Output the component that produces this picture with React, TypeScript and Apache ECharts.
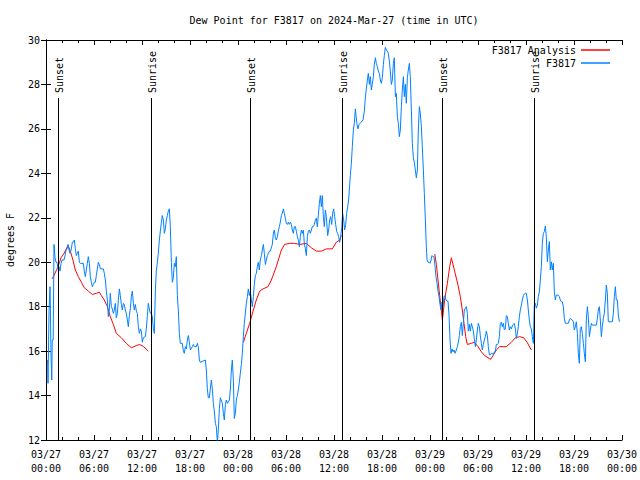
import React, { useEffect, useRef } from "react";
import * as echarts from "echarts";

// Time is in hours since 2024-03-27 00:00 UTC
const titleText = "Dew Point for F3817 on 2024-Mar-27 (time in UTC)";
const yAxisName = "degrees F";
const xTickDates = ["03/27", "03/28", "03/29", "03/30"];

const sunEventHours = [1.5, 13.1, 25.5, 37.0, 49.5, 61.0];
const sunEventLabels = ["Sunset", "Sunrise", "Sunset", "Sunrise", "Sunset", "Sunrise"];

const analysisNight1: [number, number][] = [
  [0.75,19.25],[1.0,19.4],[1.5,19.8],[1.88,20.2],[2.25,20.4],[2.75,20.75],[3.0,20.55],[3.29,20.2],
  [3.67,19.65],[4.04,19.35],[4.42,19.1],[4.79,18.85],[5.29,18.7],[5.79,18.55],[6.29,18.6],[6.67,18.65],
  [6.92,18.5],[7.29,18.3],[7.67,18.0],[8.04,17.55],[8.42,17.2],[8.79,16.8],[9.42,16.6],[10.04,16.35],
  [10.67,16.15],[11.29,16.25],[11.71,16.3],[12.21,16.2],[12.79,16.0]
];
const analysisNight2: [number, number][] = [
  [24.67,16.4],[25.04,16.8],[25.46,17.25],[25.88,17.8],[26.29,18.3],[26.71,18.7],[27.13,18.8],[27.75,18.9],
  [28.17,19.2],[28.79,19.8],[29.42,20.55],[29.83,20.8],[30.46,20.85],[31.08,20.85],[31.71,20.8],[32.54,20.85],
  [33.17,20.65],[33.79,20.5],[34.42,20.5],[35.04,20.6],[35.79,20.6],[36.29,20.9],[36.71,21.0],[36.92,21.2]
];
const analysisNight3: [number, number][] = [
  [48.59,20.37],[48.8,19.9],[49.0,19.2],[49.21,18.5],[49.55,17.4],[49.83,18.3],[50.17,19.05],[50.46,19.8],
  [50.67,20.2],[51.08,19.6],[51.5,18.97],[51.79,18.45],[52.04,17.85],[52.25,17.25],[52.46,16.65],[52.67,16.3],
  [53.17,16.35],[53.58,16.4],[54.0,16.2],[54.42,15.97],[54.83,15.8],[55.25,15.7],[55.58,15.63],[55.88,15.8],
  [56.29,16.05],[56.71,16.2],[57.54,16.2],[58.17,16.4],[58.67,16.6],[59.21,16.65],[59.71,16.6],[60.13,16.4],
  [60.67,16.05]
];

const stationObs: [number, number][] = [
  [0.2,15.6],[0.25,14.55],[0.38,17.8],[0.5,18.9],[0.55,17.85],[0.63,15.8],[0.72,14.7],[0.78,16.5],[0.9,16.5],
  [1.0,20.8],[1.13,20.2],[1.25,20.0],[1.38,20.0],[1.5,19.7],[1.63,19.8],[1.75,19.6],[1.88,19.95],[2.0,20.1],
  [2.25,20.1],[2.38,20.3],[2.5,20.55],[2.63,20.6],[2.75,20.8],[2.88,20.55],[3.0,20.4],[3.17,20.6],[3.29,20.9],
  [3.42,20.9],[3.54,21.0],[3.67,20.6],[3.79,20.3],[3.92,20.4],[4.04,20.5],[4.17,20.0],[4.29,19.95],[4.67,19.95],
  [4.79,19.6],[4.92,19.35],[5.04,19.65],[5.17,19.95],[5.29,20.25],[5.42,19.95],[5.54,19.35],[5.67,19.1],
  [5.79,18.9],[5.92,19.0],[6.04,19.1],[6.17,19.1],[6.29,19.4],[6.42,19.7],[6.54,20.0],[6.67,19.9],[6.79,19.7],
  [7.17,19.7],[7.29,19.5],[7.42,19.2],[7.54,18.7],[7.67,18.3],[7.79,17.55],[7.92,17.9],[8.04,18.6],[8.17,18.0],
  [8.29,17.9],[8.42,17.7],[8.54,17.85],[8.67,18.15],[8.79,17.5],[8.92,17.7],[9.04,18.3],[9.17,18.8],[9.29,18.5],
  [9.42,18.1],[9.54,17.85],[9.67,18.15],[9.79,18.1],[9.92,17.85],[10.04,17.7],[10.17,17.4],[10.29,17.1],
  [10.42,17.6],[10.54,17.9],[10.67,18.45],[10.79,18.7],[10.92,18.15],[11.04,17.85],[11.17,18.1],[11.29,17.8],
  [11.42,17.7],[11.54,17.1],[11.67,16.8],[11.79,17.0],[11.92,16.9],[12.04,16.4],[12.17,16.6],[12.42,16.65],
  [12.54,17.0],[12.67,17.6],[12.79,18.15],[12.92,17.9],[13.04,17.7],[13.17,17.7],[13.29,17.55],[13.42,17.0],
  [13.54,16.8],[13.67,18.75],[13.79,19.6],[13.92,20.0],[14.04,20.4],[14.17,21.0],[14.29,21.4],[14.42,21.8],
  [14.54,22.1],[14.67,21.9],[14.79,21.3],[14.92,21.5],[15.04,21.9],[15.17,22.1],[15.29,22.3],[15.42,22.4],
  [15.54,21.6],[15.67,20.0],[15.79,19.1],[15.92,19.3],[16.04,19.95],[16.17,19.8],[16.29,20.25],[16.42,18.5],
  [16.54,17.85],[16.67,16.8],[16.79,16.35],[17.04,16.35],[17.17,16.0],[17.29,15.9],[17.42,16.2],[17.54,16.1],
  [17.67,16.5],[17.79,16.7],[17.92,16.4],[18.04,16.05],[18.29,16.2],[18.42,16.3],[18.54,16.2],[18.79,16.2],
  [18.92,16.35],[19.04,16.2],[19.17,15.6],[19.29,15.5],[19.92,15.6],[20.04,15.15],[20.17,14.3],[20.29,13.9],
  [20.42,13.9],[20.54,14.3],[20.67,14.7],[20.79,14.3],[20.92,13.65],[21.04,13.3],[21.17,12.75],[21.29,12.6],
  [21.42,11.9],[21.54,12.45],[21.67,13.4],[21.79,13.9],[22.04,13.65],[22.17,13.2],[22.29,12.9],[22.42,13.6],
  [22.54,13.8],[22.67,13.65],[22.92,13.8],[23.04,14.25],[23.17,15.15],[23.29,15.6],[23.42,14.7],[23.54,12.97],
  [23.67,13.2],[23.79,13.8],[23.92,14.0],[24.04,14.25],[24.17,14.6],[24.29,15.0],[24.42,15.4],[24.54,15.9],
  [24.67,16.65],[24.79,17.25],[24.92,17.7],[25.04,18.15],[25.17,18.45],[25.29,18.8],[25.42,18.5],[25.54,18.7],
  [25.67,18.3],[25.79,18.0],[25.92,18.45],[26.04,19.0],[26.17,19.4],[26.29,19.5],[26.42,19.8],[26.54,20.0],
  [26.67,19.65],[26.79,20.1],[26.92,20.3],[27.04,20.55],[27.17,20.8],[27.29,20.4],[27.42,19.9],[27.54,20.1],
  [27.67,20.3],[27.79,20.4],[27.92,20.5],[28.04,20.5],[28.29,20.8],[28.42,21.3],[28.54,21.45],[28.67,21.1],
  [28.79,21.0],[28.92,21.15],[29.04,21.4],[29.17,21.6],[29.29,21.8],[29.42,22.1],[29.54,22.2],[29.67,22.4],
  [29.79,22.2],[29.92,21.98],[30.04,21.75],[30.17,21.7],[30.29,21.8],[30.42,21.7],[30.54,21.8],[30.67,21.7],
  [30.79,21.45],[30.92,21.3],[31.04,21.6],[31.17,21.6],[31.29,21.4],[31.42,21.15],[31.54,21.0],[31.67,20.7],
  [31.79,21.15],[31.92,21.45],[32.04,21.3],[32.17,21.45],[32.29,20.85],[32.42,20.6],[32.54,20.3],[32.67,21.15],
  [32.79,21.4],[32.92,21.45],[33.04,21.3],[33.17,21.45],[33.29,21.6],[33.42,21.6],[33.54,21.7],[33.67,21.9],
  [33.79,21.98],[33.92,21.6],[34.04,22.1],[34.17,22.65],[34.29,23.0],[34.42,22.5],[34.54,23.0],[34.67,22.05],
  [34.79,21.6],[34.92,22.35],[35.04,22.05],[35.21,21.2],[35.33,21.45],[35.46,21.9],[35.58,22.05],[35.71,21.7],
  [35.83,22.2],[35.96,22.4],[36.08,22.05],[36.21,21.7],[36.33,21.4],[36.46,21.3],[36.58,21.15],[36.71,20.9],
  [36.83,21.15],[36.96,21.5],[37.08,22.2],[37.21,21.9],[37.33,21.45],[37.46,21.7],[37.58,22.2],[37.71,22.5],
  [37.83,22.8],[38.04,23.9],[38.17,24.45],[38.29,25.2],[38.42,25.95],[38.54,26.25],[38.67,26.9],[38.75,26.6],
  [38.88,26.2],[39.0,26.0],[39.13,26.2],[39.25,26.25],[39.38,26.3],[39.63,26.4],[39.79,26.8],[39.92,27.4],
  [40.04,27.8],[40.17,28.2],[40.29,28.5],[40.42,28.0],[40.54,28.35],[40.67,27.75],[40.79,28.0],[40.92,28.35],
  [41.04,28.9],[41.17,29.2],[41.29,28.95],[41.42,28.8],[41.54,28.6],[41.67,28.5],[41.79,28.2],[41.92,28.05],
  [42.04,28.3],[42.17,28.9],[42.29,29.3],[42.42,29.67],[42.54,29.55],[42.67,29.5],[42.79,29.4],[42.92,29.05],
  [43.04,28.6],[43.17,28.0],[43.29,28.2],[43.42,28.95],[43.54,29.2],[43.67,27.45],[43.79,27.6],[43.92,26.55],
  [44.04,26.25],[44.17,25.65],[44.29,25.95],[44.42,27.0],[44.54,27.75],[44.67,28.35],[44.79,27.45],[44.92,28.0],
  [45.04,27.15],[45.17,28.3],[45.29,28.65],[45.42,28.95],[45.54,28.35],[45.67,26.85],[45.79,25.35],[45.92,24.7],
  [46.04,24.5],[46.17,24.15],[46.29,23.8],[46.42,24.15],[46.54,25.95],[46.67,27.0],[46.79,26.7],[46.92,26.1],
  [47.04,25.2],[47.17,24.15],[47.29,23.1],[47.42,21.9],[47.54,20.7],[47.63,20.1],[47.75,20.0],[47.88,20.0],
  [48.0,19.95],[48.13,20.1],[48.25,20.3],[48.38,20.25],[48.5,20.25],[48.63,19.8],[48.75,19.35],[48.88,19.05],
  [49.0,18.7],[49.13,18.45],[49.25,18.1],[49.38,17.85],[49.5,18.2],[49.63,18.0],[49.75,18.45],[49.88,18.5],
  [50.0,18.3],[50.13,18.25],[50.25,18.25],[50.38,17.6],[50.5,16.5],[50.63,15.9],[50.75,16.1],[50.88,15.97],
  [51.0,16.05],[51.13,15.9],[51.29,16.05],[51.42,16.2],[51.54,16.4],[51.67,16.7],[51.79,17.1],[51.92,17.3],
  [52.04,16.7],[52.17,17.25],[52.29,17.85],[52.42,17.93],[52.54,18.0],[52.67,17.7],[52.79,16.9],[52.92,17.2],
  [53.04,16.9],[53.17,17.25],[53.29,17.1],[53.42,16.9],[53.54,16.57],[53.67,16.2],[53.79,16.5],[53.92,16.95],
  [54.04,17.25],[54.17,17.1],[54.29,16.7],[54.42,16.35],[54.54,16.05],[54.67,16.3],[54.79,16.5],[54.92,16.65],
  [55.04,16.9],[55.17,16.7],[55.29,16.2],[55.42,15.83],[55.54,15.83],[55.67,15.9],[55.79,15.9],[55.92,15.83],
  [56.04,15.97],[56.17,15.97],[56.29,16.3],[56.42,16.3],[56.54,16.35],[56.67,16.65],[56.79,17.25],[56.92,17.3],
  [57.04,17.1],[57.17,17.25],[57.29,16.95],[57.42,17.0],[57.54,17.6],[57.67,17.55],[57.79,17.25],[57.92,16.95],
  [58.04,17.1],[58.17,17.0],[58.29,17.13],[58.42,17.2],[58.54,17.25],[58.67,17.0],[58.79,16.57],[58.92,16.8],
  [59.04,17.1],[59.17,17.55],[59.29,17.85],[59.42,18.07],[59.54,18.3],[59.67,18.5],[59.79,18.57],[59.92,18.6],
  [60.04,18.6],[60.17,18.3],[60.29,17.85],[60.42,17.4],[60.54,17.1],[60.67,17.0],[60.79,16.65],[60.92,16.35],
  [61.04,18.07],[61.17,18.15],[61.29,17.93],[61.42,18.07],[61.54,18.45],[61.67,18.67],[61.79,19.2],[61.92,19.8],
  [62.04,20.85],[62.17,21.3],[62.29,21.38],[62.42,21.63],[62.54,21.15],[62.67,20.02],[62.79,20.55],[62.92,20.93],
  [63.04,19.65],[63.17,20.02],[63.29,19.65],[63.42,19.95],[63.54,18.67],[63.67,18.3],[63.79,18.52],[63.92,18.52],
  [64.04,18.52],[64.17,18.45],[64.29,18.3],[64.42,18.22],[64.54,18.22],[64.67,18.0],[64.79,17.47],[64.92,17.25],
  [65.29,17.25],[65.42,17.4],[65.54,17.47],[65.79,17.4],[65.92,17.32],[66.04,16.95],[66.17,17.1],[66.29,17.32],
  [66.42,16.8],[66.54,15.9],[66.67,15.45],[66.79,17.02],[66.92,17.1],[67.04,16.8],[67.17,16.35],[67.29,15.9],
  [67.42,15.52],[67.54,17.4],[67.67,18.0],[67.79,17.55],[67.92,16.65],[68.04,16.95],[68.17,17.25],[68.29,17.17],
  [68.79,17.17],[68.92,17.47],[69.04,17.85],[69.17,18.0],[69.29,17.4],[69.42,16.65],[69.54,17.1],[69.67,17.47],
  [69.79,17.7],[69.92,18.3],[70.04,18.97],[70.17,18.6],[70.29,17.32],[70.79,17.32],[70.92,17.7],[71.04,18.45],
  [71.17,18.9],[71.29,18.3],[71.42,18.3],[71.54,17.62],[71.67,17.32]
];

const FONT = "'DejaVu Sans Mono', 'Liberation Mono', monospace";

export default function App() {
  const ref = useRef<HTMLDivElement>(null);
  useEffect(() => {
    if (!ref.current) return;
    const chart = echarts.init(ref.current, undefined, { renderer: "svg" });
    const analysisData: any[] = [
      ...analysisNight1,
      [13.0, null],
      ...analysisNight2,
      [37.5, null],
      ...analysisNight3,
    ];
    const pad = (n: number) => (n < 10 ? "0" + n : "" + n);
    const axisCommon = {
      type: "value",
      axisLine: { show: true, lineStyle: { color: "#000", width: 1 } },
      splitLine: { show: false },
    };
    const legendCommon = {
      right: 30,
      padding: 0,
      align: "right",
      itemWidth: 29,
      itemHeight: 1.5,
      selectedMode: false,
      textStyle: { fontFamily: FONT, fontSize: 10, color: "#000" },
    };
    chart.setOption({
      animation: false,
      backgroundColor: "#fff",
      textStyle: { fontFamily: FONT },
      graphic: [
        {
          type: "text",
          x: 334,
          y: 20,
          style: {
            text: titleText,
            fill: "#000",
            font: `10px ${FONT}`,
            align: "center",
            verticalAlign: "middle",
          },
        },
      ],
      legend: [
        { ...legendCommon, top: 45, data: [{ name: "F3817 Analysis", icon: "rect" }] },
        { ...legendCommon, top: 58, data: [{ name: "F3817", icon: "rect" }] },
      ],
      grid: {
        left: 46,
        right: 18,
        top: 40,
        bottom: 40,
        containLabel: false,
        outerBoundsMode: "none",
      },
      xAxis: [
        {
          ...axisCommon,
          position: "bottom",
          min: 0,
          max: 72,
          interval: 6,
          axisTick: { show: true, inside: true, length: 5, lineStyle: { color: "#000" } },
          minorTick: { show: true, splitNumber: 3, length: 3, lineStyle: { color: "#000" } },
          axisLabel: {
            show: true,
            margin: 7,
            lineHeight: 14,
            fontFamily: FONT,
            fontSize: 10,
            color: "#000",
            formatter: (v: number) => {
              const d = Math.floor(v / 24);
              return `${xTickDates[d]}\n${pad(v % 24)}:00`;
            },
          },
        },
        {
          ...axisCommon,
          position: "top",
          min: 0,
          max: 72,
          interval: 6,
          axisTick: { show: true, inside: true, length: 5, lineStyle: { color: "#000" } },
          minorTick: { show: true, splitNumber: 3, length: 3, lineStyle: { color: "#000" } },
          axisLabel: { show: false },
        },
      ],
      yAxis: [
        {
          ...axisCommon,
          position: "left",
          min: 12,
          max: 30,
          interval: 2,
          name: yAxisName,
          nameLocation: "middle",
          nameGap: 31,
          nameRotate: 90,
          nameTextStyle: { fontFamily: FONT, fontSize: 10, color: "#000" },
          axisTick: { show: true, inside: true, length: 5, lineStyle: { color: "#000" } },
          axisLabel: { show: true, margin: 6, fontFamily: FONT, fontSize: 10, color: "#000" },
        },
        {
          ...axisCommon,
          position: "right",
          min: 12,
          max: 30,
          interval: 2,
          axisTick: { show: true, inside: true, length: 5, lineStyle: { color: "#000" } },
          axisLabel: { show: false },
        },
      ],
      series: [
        {
          name: "F3817 Analysis",
          type: "line",
          data: analysisData,
          showSymbol: false,
          symbol: "none",
          connectNulls: false,
          color: "#ff0000",
          lineStyle: { color: "#ff0000", width: 1 },
          clip: true,
          z: 2,
        },
        {
          name: "F3817",
          type: "line",
          data: stationObs,
          showSymbol: false,
          symbol: "none",
          color: "#0080ff",
          lineStyle: { color: "#0080ff", width: 1 },
          clip: true,
          z: 3,
        },
        {
          name: "sun",
          type: "custom",
          data: sunEventHours.map((h) => [h, 12]),
          z: 4,
          renderItem: (params: any, api: any) => {
            const h = api.value(0);
            const bottom = api.coord([h, 12]);
            const top = api.coord([h, 30]);
            const x = Math.round(bottom[0]) + 0.5;
            return {
              type: "group",
              children: [
                {
                  type: "line",
                  shape: { x1: x, y1: top[1] + 58, x2: x, y2: bottom[1] },
                  style: { stroke: "#000", lineWidth: 1 },
                },
                {
                  type: "text",
                  x: x + 0.5,
                  y: top[1] + 53,
                  rotation: Math.PI / 2,
                  style: {
                    text: sunEventLabels[params.dataIndex],
                    fill: "#000",
                    font: `10px ${FONT}`,
                    align: "left",
                    verticalAlign: "middle",
                  },
                },
              ],
            };
          },
        },
      ],
    });
    return () => chart.dispose();
  }, []);
  return (
    <div
      ref={ref}
      style={{ position: "absolute", left: 0, top: 0, width: 640, height: 480 }}
    />
  );
}
